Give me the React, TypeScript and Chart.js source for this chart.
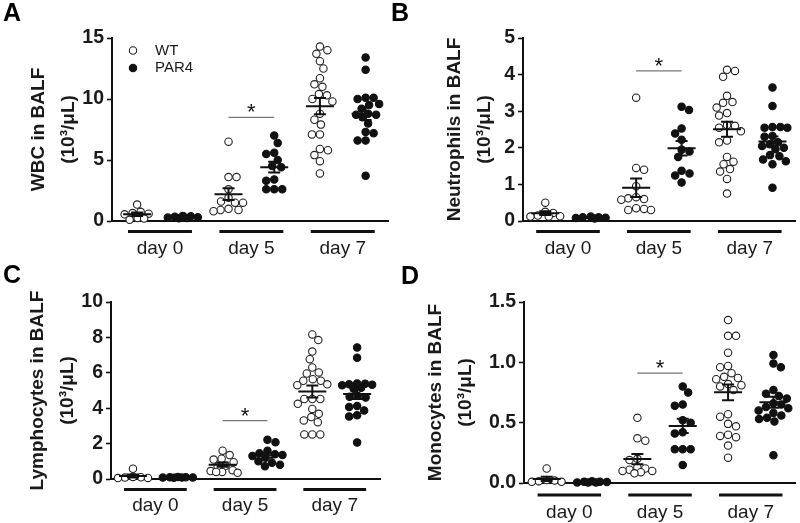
import React, { useEffect, useRef } from 'react';
import { Chart, registerables } from 'chart.js';

Chart.register(...registerables);

const FONT = '"Liberation Sans", Arial, Helvetica, sans-serif';
const INK = '#111111';
const TEXT = '#1a1a1a';

// ---------- categories / series ----------
const DAYS = ['day 0', 'day 5', 'day 7'];
const SERIES = ['WT', 'PAR4'];
const UNIT_LINE = '(10\u00B3/\u03BCL)';

// ---------- data (10^3 cells / µL), one list per day ----------
const wbcWT: number[][] = [
  [1.35, 0.75, 0.65, 0.6, 0.55, 0.25, 0.2, 0.1],
  [6.5, 3.6, 3.6, 2.6, 1.9, 1.6, 1.5, 1.5, 1.0, 0.9, 0.9, 0.8],
  [14.3, 14.0, 13.7, 13.1, 12.5, 11.7, 11.2, 11.0, 10.4, 10.3, 10.0, 9.8, 8.8, 8.3, 7.9, 7.1, 7.1, 5.9, 5.8, 5.4, 4.9, 3.9],
];
const wbcPAR4: number[][] = [
  [0.42, 0.38, 0.35, 0.3, 0.28, 0.25, 0.22],
  [7.0, 6.4, 5.6, 5.5, 5.0, 4.5, 4.4, 3.4, 3.3, 2.6, 2.6, 2.6],
  [13.4, 12.4, 10.1, 10.1, 10.0, 9.6, 9.5, 9.2, 8.8, 8.7, 8.7, 8.5, 8.0, 7.3, 7.2, 6.6, 6.6, 3.7],
];
const neuWT: number[][] = [
  [0.5, 0.25, 0.22, 0.15, 0.13, 0.12, 0.12],
  [3.37, 1.45, 1.4, 0.95, 0.65, 0.62, 0.6, 0.58, 0.35, 0.33, 0.3, 0.3],
  [4.13, 4.1, 3.94, 3.42, 3.25, 3.23, 3.1, 2.95, 2.88, 2.62, 2.6, 2.55, 2.45, 2.2, 2.15, 1.75, 1.62, 1.55, 1.42, 1.35, 1.15, 0.75],
];
const neuPAR4: number[][] = [
  [0.12, 0.1, 0.1, 0.09, 0.08, 0.07],
  [3.12, 3.03, 2.53, 2.39, 2.22, 1.95, 1.9, 1.75, 1.37, 1.3, 1.24, 1.05],
  [3.65, 3.14, 2.57, 2.57, 2.55, 2.55, 2.32, 2.3, 2.15, 2.1, 2.05, 2.0, 1.96, 1.8, 1.77, 1.68, 1.63, 1.55, 0.91],
];
const lymWT: number[][] = [
  [0.58, 0.12, 0.1, 0.08, 0.06, 0.05],
  [1.6, 1.35, 1.15, 1.1, 0.95, 0.75, 0.7, 0.5, 0.45, 0.4, 0.4, 0.35],
  [8.17, 7.85, 7.2, 6.77, 6.3, 6.02, 5.96, 5.64, 5.55, 5.55, 5.35, 5.3, 4.52, 4.52, 4.52, 4.25, 3.96, 3.68, 3.5, 3.31, 3.21, 2.52, 2.52, 2.52],
];
const lymPAR4: number[][] = [
  [0.12, 0.1, 0.1, 0.09, 0.08, 0.08, 0.07],
  [2.22, 2.08, 1.6, 1.45, 1.4, 1.35, 1.3, 1.2, 1.0, 0.92, 0.8, 0.72],
  [7.43, 6.85, 5.4, 5.38, 5.35, 5.33, 5.3, 5.15, 5.1, 4.7, 4.65, 4.6, 4.13, 4.07, 3.87, 3.6, 3.53, 2.06],
];
const monoWT: number[][] = [
  [0.12, 0.025, 0.02, 0.015, 0.01, 0.01],
  [0.54, 0.37, 0.35, 0.2, 0.19, 0.13, 0.12, 0.11, 0.1, 0.1, 0.09, 0.08],
  [1.35, 1.22, 1.22, 1.08, 0.97, 0.96, 0.91, 0.88, 0.87, 0.86, 0.82, 0.81, 0.8, 0.77, 0.57, 0.55, 0.49, 0.47, 0.4, 0.39, 0.38, 0.31, 0.21],
];
const monoPAR4: number[][] = [
  [0.015, 0.01, 0.01, 0.008, 0.005, 0.005, 0.004],
  [0.8, 0.75, 0.65, 0.64, 0.52, 0.5, 0.42, 0.41, 0.28, 0.28, 0.28, 0.15],
  [1.06, 0.99, 0.96, 0.77, 0.74, 0.72, 0.7, 0.66, 0.65, 0.63, 0.62, 0.6, 0.58, 0.56, 0.54, 0.53, 0.51, 0.23],
];

// y-value of the "*" comparison bar (day 5 WT vs PAR4)
const SIG_LEVELS = [8.5, 4.1, 3.3, 0.91];
const Y_MAX = [15, 5, 10, 1.5];
const Y_STEP = [5, 1, 2, 0.5];

// ---------- layout ----------
type Box = { left: number; top: number; width: number; height: number };
type Area = { left: number; top: number; right: number; bottom: number };
type Panel = {
  letter: string;
  letterPos: { left: number; top: number };
  title: string[];
  wt: number[][];
  par4: number[][];
  yMax: number;
  yStep: number;
  decimals: number;
  sig: number;
  legend: boolean;
  box: Box;
  area: Area;
  xMin: number;
  xMax: number;
  titlePad: number;
  labelPad: number;
  barOffset: number;
};

const PANELS: Panel[] = [
  {
    letter: 'A', letterPos: { left: 3, top: 0 },
    title: ['WBC in BALF', UNIT_LINE], wt: wbcWT, par4: wbcPAR4,
    yMax: Y_MAX[0], yStep: Y_STEP[0], decimals: 0, sig: SIG_LEVELS[0], legend: true,
    box: { left: 0, top: 0, width: 400, height: 260 },
    area: { left: 112, top: 38, right: 388, bottom: 221 },
    xMin: 0.45, xMax: 6.49, titlePad: 24, labelPad: 16, barOffset: 10.5,
  },
  {
    letter: 'B', letterPos: { left: 391, top: 0 },
    title: ['Neutrophils in BALF', UNIT_LINE], wt: neuWT, par4: neuPAR4,
    yMax: Y_MAX[1], yStep: Y_STEP[1], decimals: 0, sig: SIG_LEVELS[1], legend: false,
    box: { left: 400, top: 0, width: 400, height: 260 },
    area: { left: 123, top: 38, right: 398, bottom: 221 },
    xMin: 0.51, xMax: 6.5, titlePad: 40, labelPad: 16, barOffset: 10.5,
  },
  {
    letter: 'C', letterPos: { left: 3, top: 262 },
    title: ['Lymphocytes in BALF', UNIT_LINE], wt: lymWT, par4: lymPAR4,
    yMax: Y_MAX[2], yStep: Y_STEP[2], decimals: 0, sig: SIG_LEVELS[2], legend: false,
    box: { left: 0, top: 262, width: 400, height: 261 },
    area: { left: 111, top: 40, right: 380, bottom: 217 },
    xMin: 0.51, xMax: 6.51, titlePad: 23, labelPad: 15.5, barOffset: 10.5,
  },
  {
    letter: 'D', letterPos: { left: 401, top: 263 },
    title: ['Monocytes in BALF', UNIT_LINE], wt: monoWT, par4: monoPAR4,
    yMax: Y_MAX[3], yStep: Y_STEP[3], decimals: 1, sig: SIG_LEVELS[3], legend: false,
    box: { left: 400, top: 262, width: 400, height: 261 },
    area: { left: 124, top: 40, right: 398, bottom: 221 },
    xMin: 0.5, xMax: 6.48, titlePad: 21, labelPad: 18, barOffset: 12,
  },
];

const POINT_R = 3.7;
const SWARM_MIN_DIST = 8;
const SWARM_MAX_HALF = 15;
const MEAN_HALF = 14;
const CAP_HALF = 6;
const DAY_BAR_HALF = 0.7;

// simple beeswarm: horizontal pixel offsets so markers do not overlap
function swarmOffsets(values: number[], pxPerUnit: number): number[] {
  const ys = values.map((v) => v * pxPerUnit);
  const order = ys.map((_, i) => i).sort((a, b) => ys[b] - ys[a]);
  const placed: { x: number; y: number }[] = [];
  const out = new Array(values.length).fill(0);
  let flip = 1;
  for (const i of order) {
    const y = ys[i];
    let best = 0;
    let bestScore = -Infinity;
    let found = false;
    for (let c = 0; c <= SWARM_MAX_HALF && !found; c += 0.5) {
      const cands = c === 0 ? [0] : [c * flip, -c * flip];
      for (const cx of cands) {
        let md = Infinity;
        for (const p of placed) {
          const d = Math.hypot(cx - p.x, y - p.y);
          if (d < md) md = d;
        }
        if (md >= SWARM_MIN_DIST) {
          best = cx;
          found = true;
          break;
        }
        if (md > bestScore) {
          bestScore = md;
          best = cx;
        }
      }
    }
    if (best !== 0) flip = -flip;
    placed.push({ x: best, y });
    out[i] = best;
  }
  return out;
}

function stats(vals: number[]) {
  const n = vals.length;
  const m = vals.reduce((a, b) => a + b, 0) / n;
  const sd = Math.sqrt(vals.reduce((a, b) => a + (b - m) * (b - m), 0) / (n - 1));
  return { mean: m, sem: sd / Math.sqrt(n) };
}

function buildConfig(p: Panel): any {
  const plotH = p.area.bottom - p.area.top;
  const plotW = p.area.right - p.area.left;
  const pxPerY = plotH / p.yMax;
  const pxPerX = plotW / (p.xMax - p.xMin);

  const seriesLists = [p.wt, p.par4];
  const groups: { pos: number; vals: number[] }[] = [];
  const datasets = seriesLists.map((lists, s) => {
    const data: { x: number; y: number }[] = [];
    lists.forEach((vals, g) => {
      const pos = 2 * g + 1 + s;
      groups.push({ pos, vals });
      const offs = swarmOffsets(vals, pxPerY);
      vals.forEach((v, k) => data.push({ x: pos + offs[k] / pxPerX, y: v }));
    });
    const filled = s === 1;
    return {
      label: SERIES[s],
      data,
      showLine: false,
      clip: false,
      pointRadius: POINT_R,
      pointHoverRadius: POINT_R,
      pointBorderWidth: 1.1,
      pointBackgroundColor: filled ? INK : '#ffffff',
      pointBorderColor: filled ? INK : '#222222',
      order: 0,
    };
  });

  const overlayPlugin = {
    id: 'overlay' + p.letter,
    afterDatasetsDraw(chart: any) {
      const { ctx, scales, chartArea } = chart;
      const x = scales.x;
      const y = scales.y;
      ctx.save();
      // mean ± SEM
      ctx.strokeStyle = INK;
      ctx.lineWidth = 2;
      ctx.lineCap = 'butt';
      for (const g of groups) {
        const { mean, sem } = stats(g.vals);
        const cx = x.getPixelForValue(g.pos);
        const my = y.getPixelForValue(mean);
        const t = y.getPixelForValue(mean + sem);
        const b = y.getPixelForValue(Math.max(0, mean - sem));
        ctx.beginPath();
        ctx.moveTo(cx - MEAN_HALF, my);
        ctx.lineTo(cx + MEAN_HALF, my);
        ctx.moveTo(cx, t);
        ctx.lineTo(cx, b);
        ctx.moveTo(cx - CAP_HALF, t);
        ctx.lineTo(cx + CAP_HALF, t);
        ctx.moveTo(cx - CAP_HALF, b);
        ctx.lineTo(cx + CAP_HALF, b);
        ctx.stroke();
      }
      // significance bar (day 5: WT vs PAR4)
      const sy = y.getPixelForValue(p.sig);
      const sx0 = x.getPixelForValue(3);
      const sx1 = x.getPixelForValue(4);
      ctx.strokeStyle = '#777777';
      ctx.lineWidth = 1.2;
      ctx.beginPath();
      ctx.moveTo(sx0, sy);
      ctx.lineTo(sx1, sy);
      ctx.stroke();
      ctx.fillStyle = INK;
      ctx.font = `22px ${FONT}`;
      ctx.textAlign = 'center';
      ctx.textBaseline = 'alphabetic';
      ctx.fillText('*', (sx0 + sx1) / 2, sy + 2);
      // day bars under the axis
      ctx.strokeStyle = INK;
      ctx.lineWidth = 3;
      const by = chartArea.bottom + p.barOffset;
      for (const tk of x.ticks) {
        ctx.beginPath();
        ctx.moveTo(x.getPixelForValue(tk.value - DAY_BAR_HALF), by);
        ctx.lineTo(x.getPixelForValue(tk.value + DAY_BAR_HALF), by);
        ctx.stroke();
      }
      // legend
      if (p.legend) {
        ctx.font = `15px ${FONT}`;
        ctx.textAlign = 'left';
        ctx.textBaseline = 'middle';
        chart.data.datasets.forEach((ds: any, i: number) => {
          const ly = chartArea.top + 12.5 + i * 17.5;
          const lx = chartArea.left + 21;
          ctx.beginPath();
          ctx.arc(lx, ly, POINT_R, 0, Math.PI * 2);
          ctx.fillStyle = ds.pointBackgroundColor;
          ctx.fill();
          ctx.lineWidth = 1.1;
          ctx.strokeStyle = ds.pointBorderColor;
          ctx.stroke();
          ctx.fillStyle = TEXT;
          ctx.fillText(ds.label, chartArea.left + 43, ly);
        });
      }
      ctx.restore();
    },
  };

  const xHeight = p.box.height - p.area.bottom;
  const yWidth = p.area.left;

  return {
    type: 'scatter',
    data: { datasets },
    options: {
      responsive: false,
      animation: false,
      events: [],
      layout: {
        padding: { left: 0, top: p.area.top, right: p.box.width - p.area.right, bottom: 0 },
      },
      plugins: {
        legend: { display: false },
        tooltip: { enabled: false },
      },
      scales: {
        x: {
          type: 'linear',
          min: p.xMin,
          max: p.xMax,
          afterBuildTicks: (scale: any) => {
            scale.ticks = DAYS.map((_, g) => ({ value: 2 * g + 1.5 }));
          },
          afterFit: (scale: any) => {
            scale.height = xHeight;
          },
          grid: { display: false, drawTicks: false },
          border: { display: true, color: INK, width: 2 },
          ticks: {
            autoSkip: false,
            maxRotation: 0,
            minRotation: 0,
            padding: p.labelPad,
            color: TEXT,
            font: { family: FONT, size: 19 },
            callback: (_v: any, i: number) => DAYS[i],
          },
        },
        y: {
          min: 0,
          max: p.yMax,
          afterFit: (scale: any) => {
            scale.width = yWidth;
          },
          grid: {
            drawOnChartArea: false,
            drawTicks: true,
            tickLength: 5,
            tickWidth: 1.6,
            tickColor: INK,
            color: INK,
          },
          border: { display: true, color: INK, width: 2 },
          ticks: {
            stepSize: p.yStep,
            padding: 3,
            color: TEXT,
            font: { family: FONT, size: 19.5, weight: 'bold' },
            callback: (v: any) => Number(v).toFixed(p.decimals),
          },
          title: {
            display: true,
            text: p.title,
            color: TEXT,
            font: { family: FONT, size: 19, weight: 'bold', lineHeight: 1.58 },
            padding: { top: p.titlePad, bottom: 0 },
          },
        },
      },
    },
    plugins: [overlayPlugin],
  };
}

function PanelChart({ panel }: { panel: Panel }) {
  const ref = useRef<HTMLCanvasElement | null>(null);
  useEffect(() => {
    if (!ref.current) return;
    const chart = new Chart(ref.current, buildConfig(panel));
    return () => chart.destroy();
  }, [panel]);
  const { box } = panel;
  return (
    <div style={{ position: 'absolute', left: box.left, top: box.top, width: box.width, height: box.height }}>
      <canvas
        ref={ref}
        width={box.width}
        height={box.height}
        style={{ display: 'block', width: box.width, height: box.height }}
      />
    </div>
  );
}

export default function App() {
  return (
    <div
      style={{
        position: 'fixed',
        left: 0,
        top: 0,
        width: 800,
        height: 523,
        background: '#ffffff',
        overflow: 'hidden',
      }}
    >
      {PANELS.map((p) => (
        <PanelChart key={p.letter} panel={p} />
      ))}
      {PANELS.map((p) => (
        <div
          key={'l' + p.letter}
          style={{
            position: 'absolute',
            left: p.letterPos.left,
            top: p.letterPos.top,
            fontFamily: FONT,
            fontWeight: 'bold',
            fontSize: 25,
            lineHeight: 1,
            color: '#000',
          }}
        >
          {p.letter}
        </div>
      ))}
    </div>
  );
}
